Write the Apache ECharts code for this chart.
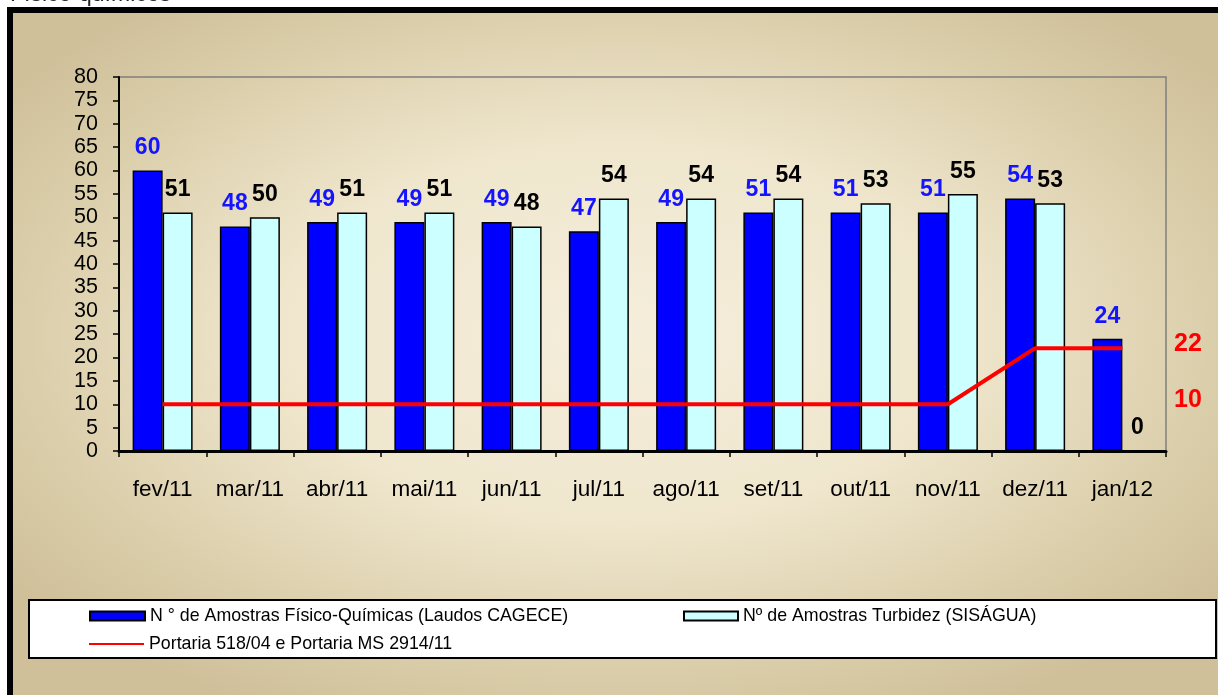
<!DOCTYPE html>
<html>
<head>
<meta charset="utf-8">
<script src="https://cdn.jsdelivr.net/npm/echarts@6/dist/echarts.min.js"></script>
<style>
  html, body { margin: 0; padding: 0; background: #ffffff; }
  #chart { width: 1218px; height: 695px; }
</style>
</head>
<body>
<div id="chart"></div>
<script>
const categories = ['fev/11','mar/11','abr/11','mai/11','jun/11','jul/11','ago/11','set/11','out/11','nov/11','dez/11','jan/12'];
const fisicoQuimicas = [60, 48, 49, 49, 49, 47, 49, 51, 51, 51, 54, 24];
const turbidez = [51, 50, 51, 51, 48, 54, 54, 54, 53, 55, 53, 0];
const portaria = [10, 10, 10, 10, 10, 10, 10, 10, 10, 10, 22, 22];
const portariaLabels = [10, 22];
const seriesNames = [
  'N ° de Amostras Físico-Químicas (Laudos CAGECE)',
  'Nº de Amostras Turbidez (SISÁGUA)',
  'Portaria 518/04 e Portaria MS 2914/11'
];
const titleText = 'Físico-químicos';

const FONT = '"Liberation Sans", Arial, Helvetica, sans-serif';
const chart = echarts.init(document.getElementById('chart'), null, { renderer: 'canvas' });

const legendText = { color: '#000', fontSize: 17.8, fontFamily: FONT };

chart.setOption({
  backgroundColor: '#ffffff',
  animation: false,
  graphic: [
    {
      type: 'text', left: 10, top: -17, z: -5,
      style: { text: titleText, fill: '#222', font: '23px ' + FONT }
    },
    {
      type: 'rect', x: 10, y: 10, z: -10, silent: true,
      scaleX: 1220 / 680, scaleY: 1,
      shape: { x: 0, y: 0, width: 680, height: 690 },
      style: {
        fill: {
          type: 'radial', x: 0.5, y: 0.47, r: 0.62,
          colorStops: [
            { offset: 0, color: '#F5EEDC' },
            { offset: 0.45, color: '#EFE6CD' },
            { offset: 0.8, color: '#DACDA9' },
            { offset: 1, color: '#CFC09A' }
          ]
        }
      }
    },
    {
      type: 'rect', z: -9, silent: true,
      shape: { x: 10, y: 10, width: 1240, height: 720 },
      style: { fill: null, stroke: '#000', lineWidth: 6 }
    },
    {
      type: 'rect', z: -8, silent: true,
      shape: { x: 29, y: 600, width: 1187, height: 58 },
      style: { fill: '#ffffff', stroke: '#000', lineWidth: 2 }
    }
  ],
  legend: [
    {
      data: [seriesNames[0]], left: 89, top: 607, padding: 0,
      itemWidth: 55, itemHeight: 9, icon: 'rect', textStyle: legendText
    },
    {
      data: [seriesNames[1]], left: 683, top: 607, padding: 0,
      itemWidth: 54, itemHeight: 9, icon: 'rect', textStyle: legendText
    },
    {
      data: [{ name: seriesNames[2], icon: 'rect', itemStyle: { color: '#FF0000', borderWidth: 0 } }],
      left: 89, top: 635, padding: 0,
      itemWidth: 55, itemHeight: 2, textStyle: legendText
    }
  ],
  grid: {
    left: 119, right: 52, top: 77, bottom: 244,
    show: true, borderColor: '#7f7f7f', borderWidth: 1.5, backgroundColor: 'transparent'
  },
  xAxis: {
    type: 'category',
    data: categories,
    boundaryGap: true,
    axisLine: { show: true, lineStyle: { color: '#000', width: 3 } },
    axisTick: { show: true, length: 6, lineStyle: { color: '#000', width: 1.5 } },
    axisLabel: { color: '#000', fontSize: 22.5, fontFamily: FONT, margin: 27, interval: 0 },
    splitLine: { show: false }
  },
  yAxis: [
    {
      type: 'value', min: 0, max: 80, interval: 5,
      axisLine: { show: true, lineStyle: { color: '#000', width: 2 } },
      axisTick: { show: true, length: 6, lineStyle: { color: '#000', width: 1.5 } },
      axisLabel: { color: '#000', fontSize: 21.5, fontFamily: FONT, margin: 21 },
      splitLine: { show: false }
    },
    {
      type: 'value', min: 0, max: 80, interval: 1, position: 'right',
      axisLine: { show: false }, axisTick: { show: false }, splitLine: { show: false },
      axisLabel: {
        color: '#FF0000', fontSize: 25, fontWeight: 'bold', fontFamily: FONT, margin: 8,
        verticalAlign: 'bottom', lineHeight: 9,
        formatter: function (v) { return portariaLabels.indexOf(v) >= 0 ? String(v) : ''; }
      }
    }
  ],
  series: [
    {
      name: seriesNames[0], type: 'bar', data: fisicoQuimicas,
      barWidth: 30, barGap: '0%',
      itemStyle: { color: '#0000FF', borderColor: '#000', borderWidth: 1.5 },
      label: {
        show: true, position: 'top', distance: 11,
        color: '#1414FF', fontSize: 23, fontWeight: 'bold', fontFamily: FONT
      }
    },
    {
      name: seriesNames[1], type: 'bar', data: turbidez,
      barWidth: 30, barGap: '0%',
      itemStyle: { color: '#CCFFFF', borderColor: '#000', borderWidth: 1.5 },
      label: {
        show: true, position: 'top', distance: 11,
        color: '#000', fontSize: 23, fontWeight: 'bold', fontFamily: FONT
      }
    },
    {
      name: seriesNames[2], type: 'line', data: portaria,
      symbol: 'none', showSymbol: false, z: 5,
      lineStyle: { color: '#FF0000', width: 4 },
      itemStyle: { color: '#FF0000' }
    }
  ]
});
</script>
</body>
</html>
